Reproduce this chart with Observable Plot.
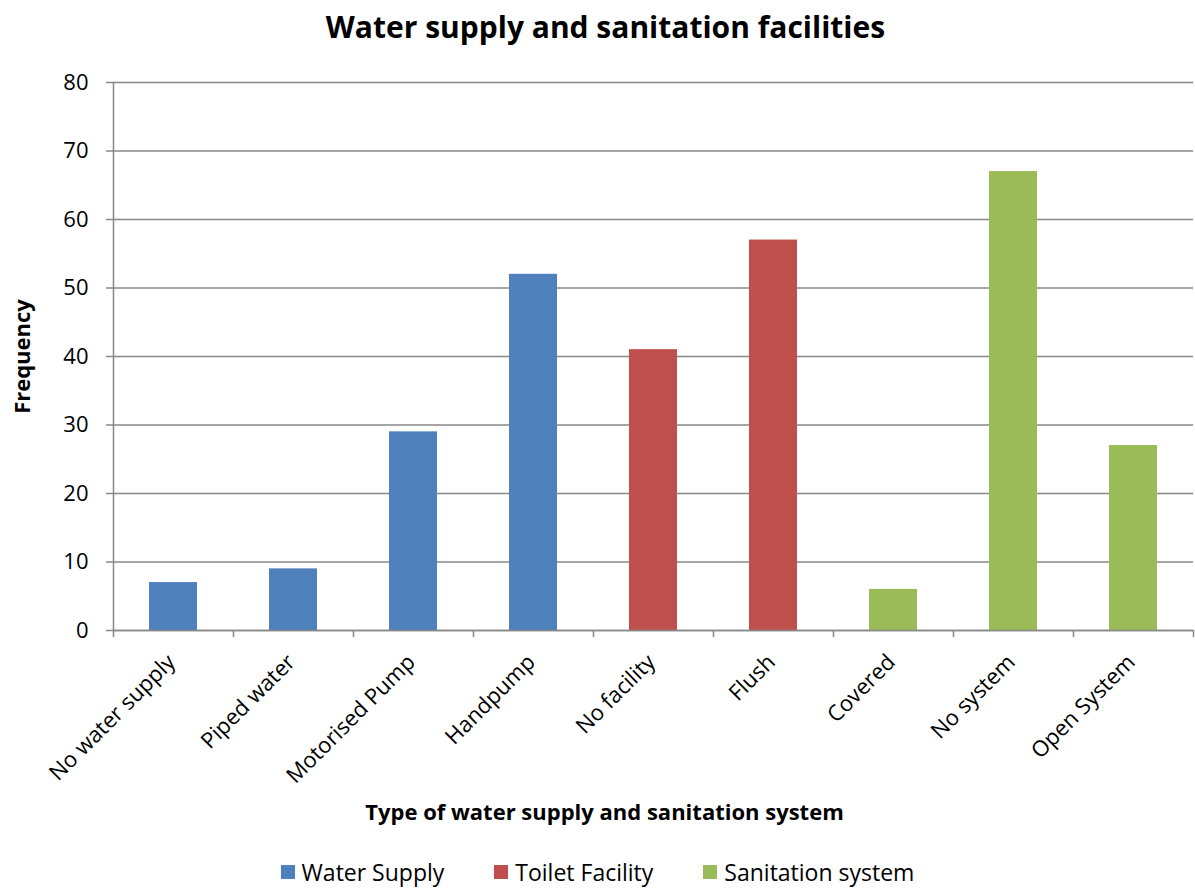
<!DOCTYPE html>
<html>
<head>
<meta charset="utf-8">
<script src="https://cdn.jsdelivr.net/npm/d3@7"></script>
<script src="https://cdn.jsdelivr.net/npm/@observablehq/plot@0.6"></script>
<style>
  body { margin: 0; background: #fff; font-family: "Open Sans", sans-serif; }
  #wrap { width: 1195px; height: 890px; position: relative; }
  #title { height: 60px; line-height: 54px; text-align: center; font-weight: bold; font-size: 30px; padding-left: 16px; box-sizing: border-box; color: #000; }
  #legend { display: flex; justify-content: center; gap: 50px; padding-top: 16px; font-size: 23px; color: #000; }
  .item { display: flex; align-items: center; gap: 7px; }
  .sw { width: 14px; height: 14px; display: inline-block; }
</style>
</head>
<body>
<div id="wrap">
  <div id="title"></div>
  <div id="chart"></div>
  <div id="legend"></div>
</div>
<script>
const titleText = "Water supply and sanitation facilities";
const xTitle = "Type of water supply and sanitation system";
const yTitle = "Frequency";
const categories = ["No water supply", "Piped water", "Motorised Pump", "Handpump", "No facility", "Flush", "Covered", "No system", "Open System"];
const values = [7, 9, 29, 52, 41, 57, 6, 67, 27];
const groups = ["Water Supply", "Water Supply", "Water Supply", "Water Supply", "Toilet Facility", "Toilet Facility", "Sanitation system", "Sanitation system", "Sanitation system"];
const groupNames = ["Water Supply", "Toilet Facility", "Sanitation system"];
const groupColors = ["#4F81BD", "#C0504D", "#9BBB59"];
const yTicks = [0, 10, 20, 30, 40, 50, 60, 70, 80];

const data = categories.map((c, i) => ({category: c, value: values[i], group: groups[i]}));

document.getElementById("title").textContent = titleText;

const W = 1195, mL = 113, mR = 2;
const step = (W - mL - mR) / categories.length;

const chart = Plot.plot({
  width: W,
  height: 780,
  marginLeft: mL,
  marginRight: mR,
  marginTop: 22,
  marginBottom: 210,
  style: {fontFamily: "'Open Sans', sans-serif", fontSize: "22px", color: "#000", background: "#fff"},
  x: {domain: categories, paddingInner: 0.6, paddingOuter: 0.3},
  y: {domain: [0, 80]},
  color: {domain: groupNames, range: groupColors},
  marks: [
    Plot.gridY(yTicks, {stroke: "#888", strokeOpacity: 1, strokeWidth: 1.5}),
    Plot.axisY(yTicks, {tickSize: 7, tickPadding: 18, label: null, stroke: "#888", strokeWidth: 1.5, fontSize: 22, fill: "#000"}),
    Plot.frame({anchor: "left", stroke: "#888", strokeWidth: 1.5}),
    Plot.barY(data, {x: "category", y: "value", fill: "group"}),
    Plot.ruleY([0], {stroke: "#888", strokeWidth: 1.5}),
    Plot.axisX(categories, {tickSize: 7, text: null, dx: -step / 2, stroke: "#888", strokeWidth: 1.5, label: null}),
    Plot.axisX(categories.slice(-1), {tickSize: 7, text: null, dx: step / 2, stroke: "#888", strokeWidth: 1.5, label: null}),
    Plot.axisX(categories, {tickSize: 0, tickRotate: -45, tickPadding: 28, dx: -2, label: null, fontSize: 22, fill: "#000"}),
    Plot.text([xTitle], {text: d => d, frameAnchor: "bottom", lineAnchor: "middle", dy: 182, dx: -49, fontWeight: "bold", fontSize: 22, fill: "#000"}),
    Plot.text([yTitle], {text: d => d, frameAnchor: "left", textAnchor: "middle", lineAnchor: "middle", rotate: -90, dx: -91, fontWeight: "bold", fontSize: 22, fill: "#000"})
  ]
});
document.getElementById("chart").appendChild(chart);

const legend = document.getElementById("legend");
groupNames.forEach((g, i) => {
  const it = document.createElement("div");
  it.className = "item";
  const sw = document.createElement("span");
  sw.className = "sw";
  sw.style.background = groupColors[i];
  const t = document.createElement("span");
  t.textContent = g;
  it.appendChild(sw);
  it.appendChild(t);
  legend.appendChild(it);
});
</script>
</body>
</html>
